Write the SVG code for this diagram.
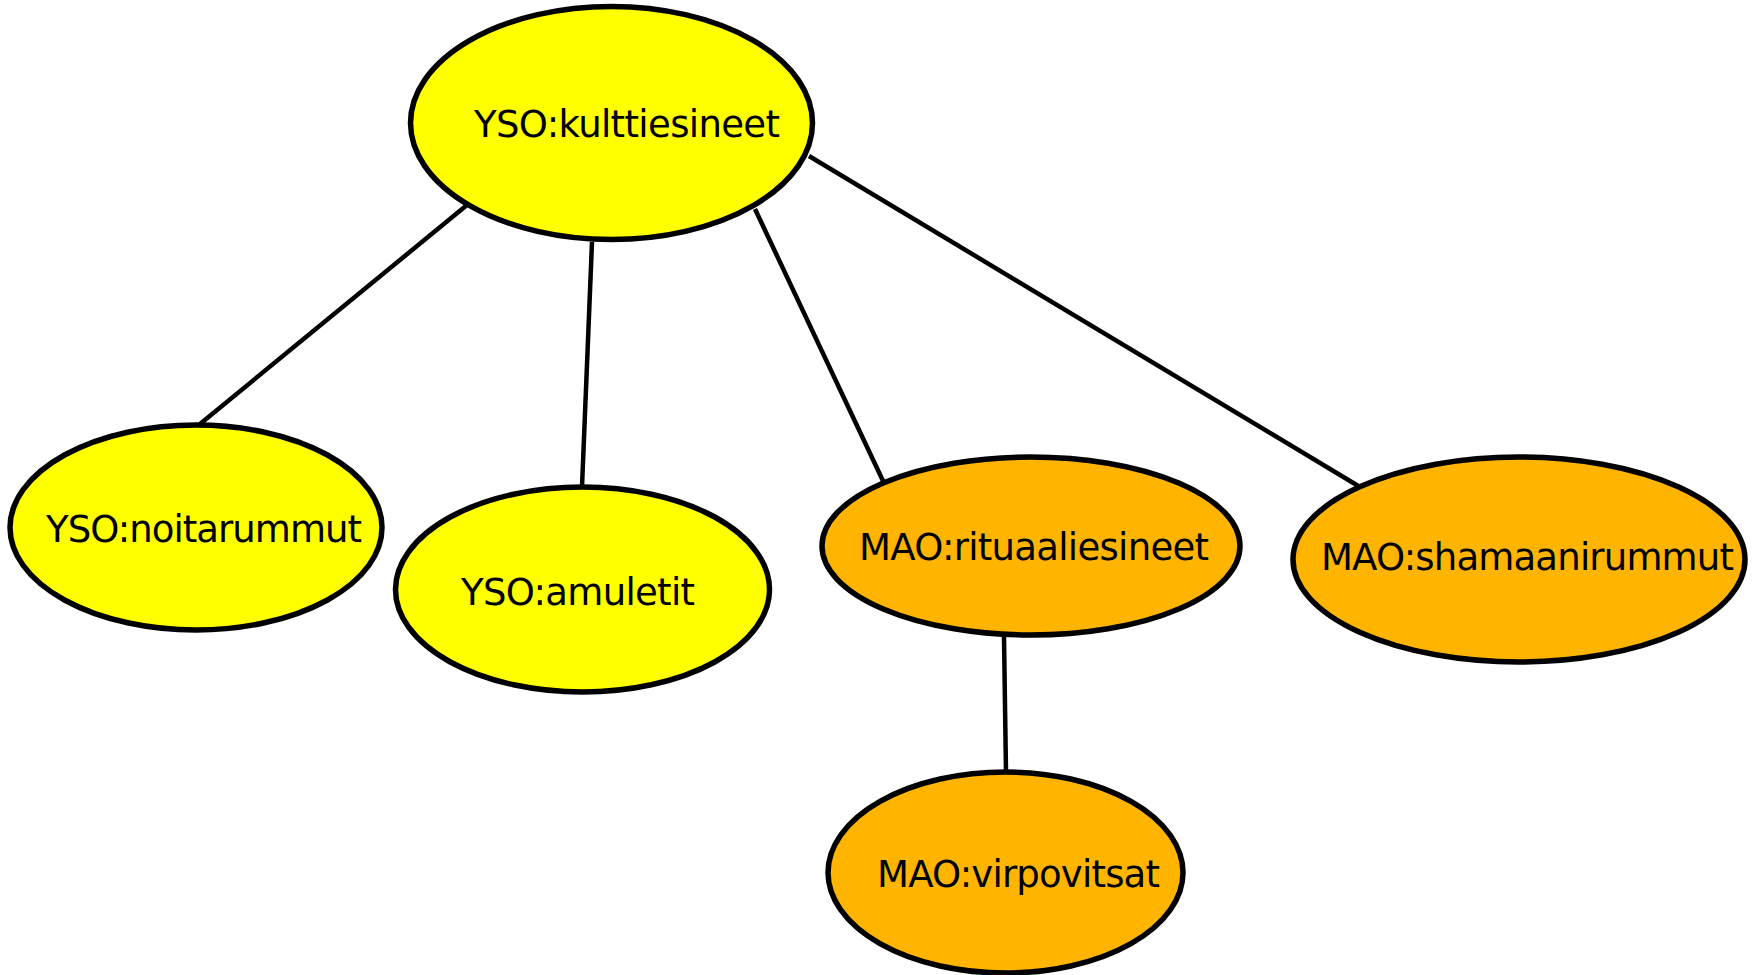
<svg xmlns="http://www.w3.org/2000/svg" width="1752" height="975" viewBox="0 0 1752 975">
<style>
.edge{stroke:#000;stroke-width:4.5;fill:none}
.node ellipse{stroke:#000;stroke-width:5.5}
.yso ellipse{fill:#ffff00}
.mao ellipse{fill:#ffb400}
.node text{font-family:"DejaVu Sans","Liberation Sans",sans-serif;font-size:37px;fill:#000}
</style>
<rect width="1752" height="975" fill="#fff"/>
<g id="connectors">
<line class="edge" x1="467" y1="205" x2="200" y2="424"/>
<line class="edge" x1="592" y1="242" x2="582" y2="487"/>
<line class="edge" x1="755" y1="209" x2="884" y2="483"/>
<line class="edge" x1="809" y1="156" x2="1360" y2="487"/>
<line class="edge" x1="1004" y1="637" x2="1006" y2="772"/>
</g>
<g id="n-kulttiesineet" class="node yso">
<ellipse cx="611.5" cy="123" rx="201" ry="116.5"/>
<text x="474" y="137" textLength="306" lengthAdjust="spacing">YSO:kulttiesineet</text>
</g>
<g id="n-noitarummut" class="node yso">
<ellipse cx="196" cy="527.5" rx="186" ry="102.5"/>
<text x="46" y="542" textLength="316" lengthAdjust="spacing">YSO:noitarummut</text>
</g>
<g id="n-amuletit" class="node yso">
<ellipse cx="582.5" cy="589.5" rx="187" ry="102.5"/>
<text x="461" y="605" textLength="234" lengthAdjust="spacing">YSO:amuletit</text>
</g>
<g id="n-rituaaliesineet" class="node mao">
<ellipse cx="1031" cy="546" rx="209" ry="89"/>
<text x="859" y="560" textLength="350" lengthAdjust="spacing">MAO:rituaaliesineet</text>
</g>
<g id="n-shamaanirummut" class="node mao">
<ellipse cx="1519" cy="559.5" rx="226" ry="102.5"/>
<text x="1321" y="570" textLength="413" lengthAdjust="spacing">MAO:shamaanirummut</text>
</g>
<g id="n-virpovitsat" class="node mao">
<ellipse cx="1005.5" cy="872.5" rx="177.5" ry="100.5"/>
<text x="877" y="887" textLength="283" lengthAdjust="spacing">MAO:virpovitsat</text>
</g>
</svg>
